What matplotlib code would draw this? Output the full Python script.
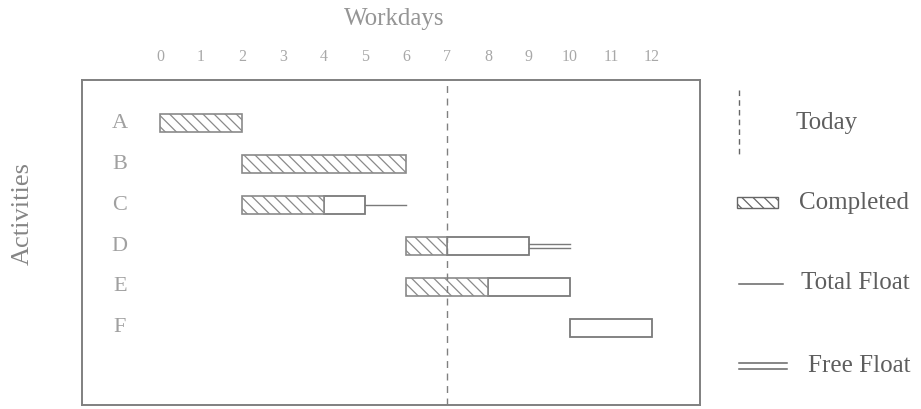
import matplotlib.pyplot as plt
from matplotlib.patches import Rectangle

plt.rcParams['font.family'] = ['Liberation Serif', 'DejaVu Serif']
plt.rcParams['hatch.color'] = '#a5a5a5'
plt.rcParams['hatch.linewidth'] = 0.9

activities = ['A', 'B', 'C', 'D', 'E', 'F']
start = [0, 2, 2, 6, 6, 10]
done_end = [2, 6, 4, 7, 8, 10]      # end of completed part
bar_end = [2, 6, 5, 9, 10, 12]      # end of activity duration
total_float_end = [None, None, 6, None, None, None]
free_float_end = [None, None, None, 10, None, None]
today = 7
workdays = list(range(0, 13))

edge = '#7a7a7a'
light = '#a0a0a0'

fig = plt.figure(figsize=(9.21, 4.09), dpi=100)
ax = fig.add_axes([0.089, 0.01, 0.671, 0.794])

h = 0.45
for i, name in enumerate(activities):
    # white remaining part
    if bar_end[i] > done_end[i]:
        ax.add_patch(Rectangle((done_end[i], i - h / 2), bar_end[i] - done_end[i], h,
                               facecolor='white', edgecolor=edge, lw=1.3))
    # hatched completed part
    if done_end[i] > start[i]:
        ax.add_patch(Rectangle((start[i], i - h / 2), done_end[i] - start[i], h,
                               facecolor='white', edgecolor='#8a8a8a', lw=1.2, hatch='\\\\\\'))
    if total_float_end[i] is not None:
        ax.plot([bar_end[i], total_float_end[i]], [i, i], color=edge, lw=1.0)
    if free_float_end[i] is not None:
        ax.plot([bar_end[i], free_float_end[i]], [i - 0.06, i - 0.06], color=edge, lw=1.0)
        ax.plot([bar_end[i], free_float_end[i]], [i + 0.06, i + 0.06], color=edge, lw=1.0)
    ax.text(-0.98, i, name, ha='center', va='center', fontsize=16, color=light)

ax.axvline(today, color='#808080', lw=1.0, ls=(0, (5, 4)))

ax.set_xlim(-1.9, 13.17)
ax.set_ylim(6.88, -1.05)
ax.xaxis.tick_top()
ax.xaxis.set_label_position('top')
ax.set_xticks(workdays)
ax.set_yticks([])
ax.tick_params(axis='x', length=0, pad=11, labelsize=11.5, labelcolor='#a8a8a8')
ax.set_xlabel('Workdays', fontsize=18, color='#959595')
ax.xaxis.set_label_coords(0.506, 1.17)
ax.set_ylabel('Activities', fontsize=19, color='#858585')
ax.yaxis.set_label_coords(-0.078, 0.59)
for s in ax.spines.values():
    s.set_color('#808080')
    s.set_linewidth(1.4)

# legend panel
lg = fig.add_axes([0.78, 0.0, 0.22, 1.0])
lg.set_xlim(0, 1)
lg.set_ylim(409, 0)
lg.axis('off')
tc = '#5e5e5e'
lg.plot([0.1, 0.1], [90, 157], color='#666666', lw=1.0, ls=(0, (4, 3)))
lg.text(0.38, 123, 'Today', fontsize=18, color=tc, va='center')
lg.add_patch(Rectangle((0.094, 197), 0.2, 11, facecolor='white', edgecolor='#666666',
                       lw=1.0, hatch='\\\\\\'))
lg.text(0.40, 203, 'Completed', fontsize=18, color=tc, va='center')
lg.plot([0.1, 0.32], [284, 284], color='#666666', lw=1.1)
lg.text(0.41, 283, 'Total Float', fontsize=18, color=tc, va='center')
lg.plot([0.1, 0.34], [363, 363], color='#666666', lw=1.1)
lg.plot([0.1, 0.34], [369, 369], color='#666666', lw=1.1)
lg.text(0.44, 366, 'Free Float', fontsize=18, color=tc, va='center')

fig.savefig('out.png', dpi=100)
